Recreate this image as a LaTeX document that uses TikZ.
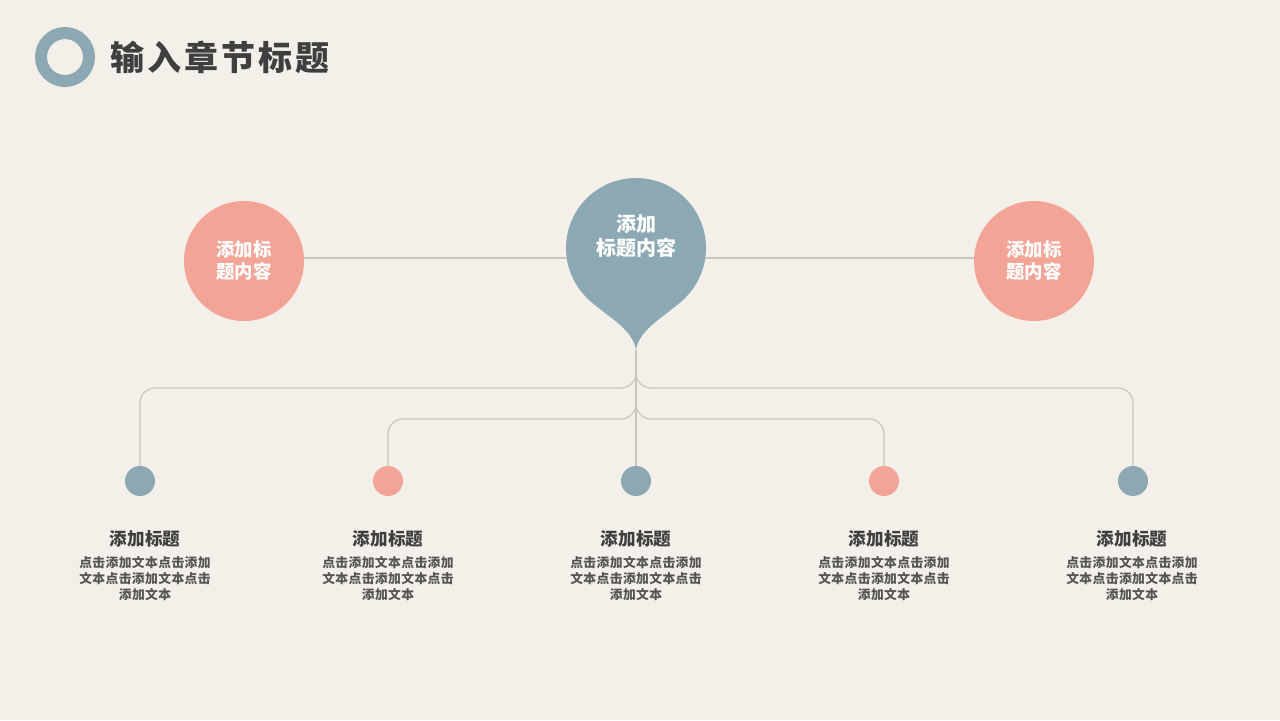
\documentclass[tikz,border=0pt]{standalone}
\usepackage{fontspec}
\newfontfamily\cjk{Noto Sans CJK SC}
\definecolor{bg}{HTML}{F4F0E9}
\definecolor{blu}{HTML}{8CA9B3}
\definecolor{pnk}{HTML}{F2A596}
\definecolor{ln}{HTML}{C9C4BC}
\definecolor{tx}{HTML}{3F3F3F}
\definecolor{bd}{HTML}{555555}
\tikzset{
  big/.style={circle,fill=pnk,minimum size=60pt,inner sep=0pt,text=white,font=\cjk\bfseries\fontsize{9.2pt}{11pt}\selectfont,align=center},
  dot/.style={circle,minimum size=15pt,inner sep=0pt},
  conn/.style={draw=ln,line width=0.6pt},
  head/.style={text=tx,font=\cjk\bfseries\fontsize{8.8pt}{10pt}\selectfont},
  body/.style={text=bd,font=\cjk\bfseries\fontsize{6.4pt}{8pt}\selectfont\addfontfeature{LetterSpace=3},align=center}
}
\begin{document}
\begin{tikzpicture}[x=0.5pt,y=-0.5pt]
\fill[bg] (0,0) rectangle (1280,720);
\useasboundingbox (0,0) rectangle (1280,720);
% header
\draw[blu,line width=6pt] (65,57) circle[radius=24];
\node[anchor=west,inner sep=0pt,text=tx,font=\cjk\bfseries\fontsize{17pt}{20pt}\selectfont\addfontfeature{LetterSpace=9}] (title) at (110,57) {输入章节标题};
% big circles
\node[big] (L) at (244,261) {添加标\\题内容};
\node[big] (R) at (1034,261) {添加标\\题内容};
\draw[conn] ([yshift=1.5pt]L.east) -- ([yshift=1.5pt]R.west);
% drop
\fill[blu] (636,248) circle[radius=70];
\fill[blu] (586.5,297.5) .. controls (604,315) and (633,328) .. (636,350)
  .. controls (639,328) and (668,315) .. (685.5,297.5) -- (636,248) -- cycle;
\coordinate (tip) at (636,350);
\node[text=white,font=\cjk\bfseries\fontsize{10pt}{12pt}\selectfont,align=center] (C) at (636,236) {添加\\标题内容};
% bottom dots
\node[dot,fill=blu] (d1) at (140,481) {};
\node[dot,fill=pnk] (d2) at (388,481) {};
\node[dot,fill=blu] (d3) at (636,481) {};
\node[dot,fill=pnk] (d4) at (884,481) {};
\node[dot,fill=blu] (d5) at (1133,481) {};
\coordinate (o) at (636,388);
\coordinate (i) at (636,419);
\coordinate (ou) at (636,360);
\coordinate (iu) at (636,390);
\draw[conn] (tip) -- (d3.north);
\draw[conn,rounded corners=7.5pt] (d1.north) |- (o) -- (ou);
\draw[conn,rounded corners=7.5pt] (d5.north) |- (o) -- (ou);
\draw[conn,rounded corners=7.5pt] (d2.north) |- (i) -- (iu);
\draw[conn,rounded corners=7.5pt] (d4.north) |- (i) -- (iu);
% labels
\foreach \n/\x in {1/145,2/388,3/636,4/884,5/1132}{
  \node[head] (h\n) at (\x,539) {添加标题};
  \node[body] (b\n) at (\x,579) {点击添加文本点击添加\\文本点击添加文本点击\\添加文本};
}
\end{tikzpicture}
\end{document}
